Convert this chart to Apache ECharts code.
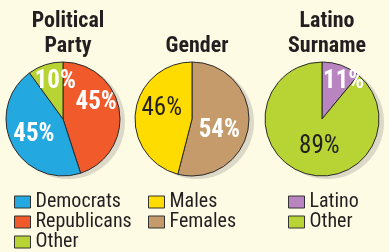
<!DOCTYPE html>
<html>
<head>
<meta charset="utf-8">
<script src="https://cdn.jsdelivr.net/npm/echarts@6/dist/echarts.min.js"></script>
<style>
    html, body { margin: 0; padding: 0; background: #fdfbe4; }
    #chart { width: 389px; height: 252px; }
</style>
</head>
<body>
<div id="chart"></div>
<script>
// data
const partyNames = ['Republicans', 'Democrats', 'Other'];
const partyValues = [45, 45, 10];
const genderNames = ['Females', 'Males'];
const genderValues = [54, 46];
const surnameNames = ['Latino', 'Other'];
const surnameValues = [11, 89];
const titles = ['Political\nParty', 'Gender', 'Latino\nSurname'];

const font = "'Liberation Sans Narrow', 'Roboto Condensed', 'Noto Sans Condensed', 'DejaVu Sans Condensed', sans-serif";
const colors = {
    Democrats: '#23a8e0', Republicans: '#f15a2b', Other: '#b7d334',
    Males: '#ffdc00', Females: '#c59b6c', Latino: '#b985c0'
};
const dark = '#231f20';

const chart = echarts.init(document.getElementById('chart'));

// label tweaks: [offset, color, weight] per slice
const labelStyle = {
    Republicans: [[2, -11], '#fff', 'bold'],
    Democrats: [[-1, 1], '#fff', 'bold'],
    Other1: [[2, -7], '#fff', 'bold'],
    Females: [[-4, 8], '#fff', 'bold'],
    Males: [[1, -6], dark, 'normal'],
    Latino: [[11, -8], '#fff', 'bold'],
    Other3: [[8, -2], dark, 'normal']
};

const makePie = (names, values, cx, key) => ({
    type: 'pie',
    center: [cx, 119],
    radius: 57,
    startAngle: 90,
    clockwise: true,
    animation: false,
    silent: true,
    avoidLabelOverlap: false,
    labelLayout: { hideOverlap: false },
    itemStyle: {
        borderColor: '#2a2a2a',
        borderWidth: 1
    },
    label: {
        show: true,
        position: 'inside',
        formatter: '{c}%',
        fontFamily: font,
        fontSize: 25
    },
    labelLine: { show: false },
    data: names.map((n, i) => {
        const s = labelStyle[n === 'Other' ? 'Other' + key : n];
        return {
            name: n,
            value: values[i],
            itemStyle: { color: colors[n] },
            label: { offset: s[0], color: s[1], fontWeight: s[2] }
        };
    })
});

// grey disc behind each pie for the drop shadow
const shadowDisc = (cx) => ({
    type: 'pie',
    center: [cx + 5, 122],
    radius: 57,
    silent: true,
    animation: false,
    label: { show: false },
    itemStyle: { color: '#dcd9c8' },
    data: [{ value: 1, name: '' }]
});

const centers = [63, 192, 322];

const legendBase = {
    orient: 'vertical',
    itemWidth: 16,
    itemHeight: 12,
    itemGap: 0,
    height: 64,
    icon: 'rect',
    selectedMode: false,
    itemStyle: { borderColor: '#333', borderWidth: 1 },
    textStyle: { fontFamily: font, fontSize: 20, color: dark, lineHeight: 18, padding: [0, 0, 0, 0] }
};

const option = {
    backgroundColor: '#fdfbe4',
    title: titles.map((t, i) => ({
        text: t,
        left: centers[i],
        top: i === 1 ? 29 : 4,
        textAlign: 'center',
        textStyle: { fontFamily: font, fontSize: 22, fontWeight: 'bold', color: dark, lineHeight: 25 }
    })),
    legend: [
        Object.assign({}, legendBase, { left: 9, top: 187, data: ['Democrats', 'Republicans', 'Other'] }),
        Object.assign({}, legendBase, { left: 143, top: 187, data: ['Males', 'Females'] }),
        Object.assign({}, legendBase, { left: 283, top: 187, data: ['Latino', 'Other'] })
    ],
    series: [
        shadowDisc(centers[0]), shadowDisc(centers[1]), shadowDisc(centers[2]),
        makePie(partyNames, partyValues, centers[0], 1),
        makePie(genderNames, genderValues, centers[1], 2),
        makePie(surnameNames, surnameValues, centers[2], 3)
    ]
};

chart.setOption(option);
</script>
</body>
</html>
